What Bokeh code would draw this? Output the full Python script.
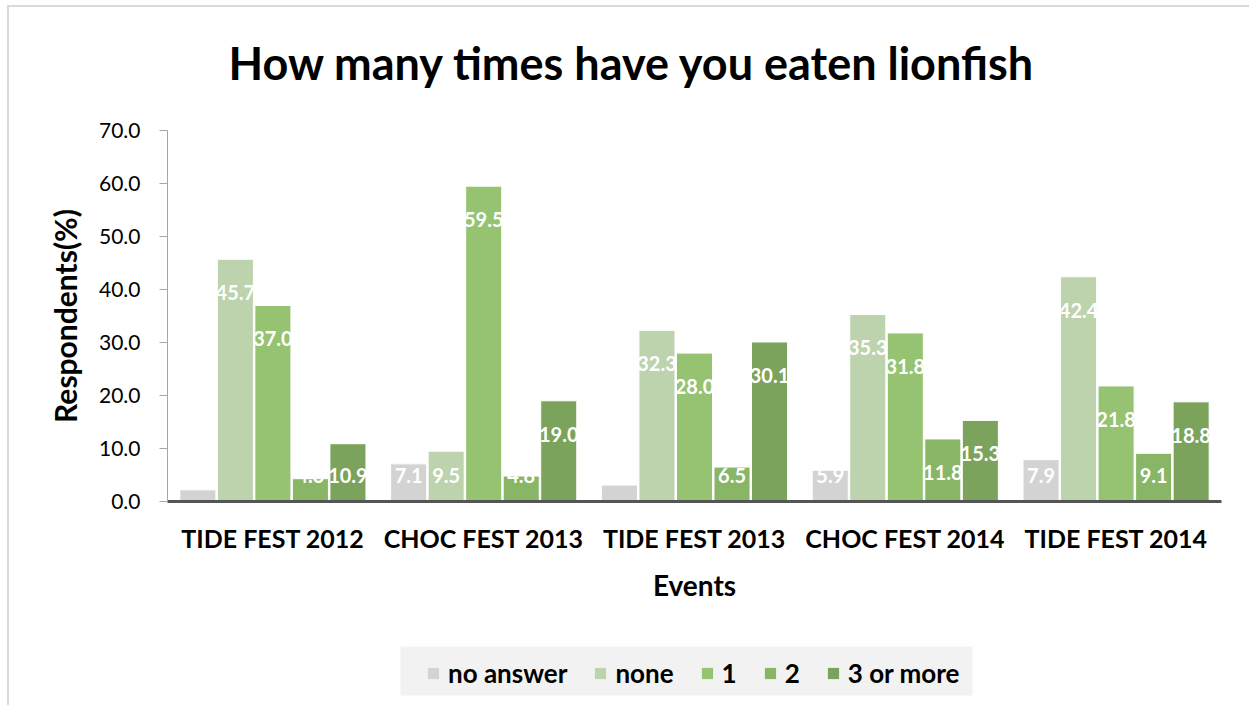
from bokeh.plotting import figure
from bokeh.layouts import column
from bokeh.models import (ColumnDataSource, Range1d, FixedTicker, NumeralTickFormatter,
                          Legend, LegendItem, Title, BoxAnnotation)
from bokeh.core.properties import value
from bokeh.embed import file_html
from bokeh.resources import INLINE

events = ["TIDE FEST 2012", "CHOC FEST 2013", "TIDE FEST 2013", "CHOC FEST 2014", "TIDE FEST 2014"]
series = ["no answer", "none", "1", "2", "3 or more"]
no_answer = [2.2, 7.1, 3.1, 5.9, 7.9]
none_vals = [45.7, 9.5, 32.3, 35.3, 42.4]
once = [37.0, 59.5, 28.0, 31.8, 21.8]
twice = [4.3, 4.8, 6.5, 11.8, 9.1]
three_plus = [10.9, 19.0, 30.1, 15.3, 18.8]
y_ticks = [0, 10, 20, 30, 40, 50, 60, 70]

all_vals = [no_answer, none_vals, once, twice, three_plus]
colors = ["#d3d3d3", "#bcd3ad", "#95c371", "#88b566", "#7ca35c"]

FONT = "Lato"
W = 1240

p = figure(width=W, height=636, output_backend="svg", toolbar_location=None, title=None,
           x_range=Range1d(-0.5, 4.5), y_range=Range1d(0, 70),
           min_border_left=158, min_border_right=28, min_border_top=123, min_border_bottom=142)
p.outline_line_color = None
p.xgrid.grid_line_color = None
p.ygrid.grid_line_color = None
p.background_fill_color = "white"
p.border_fill_color = "white"

# small spacer between frame and title, then the title itself
p.add_layout(Title(text=" ", text_font_size="10px", standoff=6), "above")
p.add_layout(Title(text="How many times have you eaten lionfish", align="left", offset=61,
                   text_font=FONT, text_font_style="bold", text_font_size="45px",
                   text_color="black", standoff=44), "above")

step = 0.178
bw = 0.171
for i, (name, vals, col) in enumerate(zip(series, all_vals, colors)):
    off = (i - 2) * step
    xs = [k + off for k in range(len(events))]
    src = ColumnDataSource(dict(x=xs, top=vals,
                                ly=[max(v - 6.3, 5.0) for v in vals],
                                lbl=["%.1f" % v for v in vals]))
    p.vbar(x="x", top="top", width=bw, source=src, fill_color=col,
           line_color="white", line_width=1)
    p.text(x="x", y="ly", text="lbl", source=src, text_color="white",
           text_font=value(FONT), text_font_style="bold", text_font_size="20px",
           text_align="center", text_baseline="middle")

# axes
p.xaxis.ticker = FixedTicker(ticks=list(range(len(events))))
p.xaxis.major_label_overrides = {k: e for k, e in enumerate(events)}
p.xaxis.major_tick_line_color = None
p.xaxis.minor_tick_line_color = None
p.xaxis.axis_line_color = "#555555"
p.xaxis.axis_line_width = 3
p.xaxis.major_label_text_font = FONT
p.xaxis.major_label_text_font_style = "bold"
p.xaxis.major_label_text_font_size = "25px"
p.xaxis.major_label_text_color = "black"
p.xaxis.major_label_standoff = 15
p.xaxis.axis_label = "Events"
p.xaxis.axis_label_text_font = FONT
p.xaxis.axis_label_text_font_style = "bold"
p.xaxis.axis_label_text_font_size = "28px"
p.xaxis.axis_label_text_color = "black"
p.xaxis.axis_label_standoff = 12

p.yaxis.ticker = FixedTicker(ticks=y_ticks)
p.yaxis.formatter = NumeralTickFormatter(format="0.0")
p.yaxis.minor_tick_line_color = None
p.yaxis.axis_line_color = "#a6a6a6"
p.yaxis.major_tick_line_color = "#a6a6a6"
p.yaxis.major_tick_out = 8
p.yaxis.major_tick_in = 0
p.yaxis.major_label_text_font = FONT
p.yaxis.major_label_text_font_size = "21px"
p.yaxis.major_label_text_color = "black"
p.yaxis.major_label_standoff = 19
p.yaxis.axis_label = "Respondents(%)"
p.yaxis.axis_label_text_font = FONT
p.yaxis.axis_label_text_font_style = "bold"
p.yaxis.axis_label_text_font_size = "30px"
p.yaxis.axis_label_text_color = "black"
p.yaxis.axis_label_standoff = 13

# legend strip (its frame is aligned with the main frame by the column layout)
LH = 62
p2 = figure(width=W, height=LH, output_backend="svg", toolbar_location=None, title=None,
            x_range=Range1d(0, 1054), y_range=Range1d(0, LH),
            x_axis_location=None, y_axis_location=None,
            min_border_left=0, min_border_right=0, min_border_top=0, min_border_bottom=0)
p2.outline_line_color = None
p2.xgrid.grid_line_color = None
p2.ygrid.grid_line_color = None
p2.background_fill_color = "white"
p2.border_fill_color = "white"

p2.add_layout(BoxAnnotation(left=233, right=805, bottom=10, top=59,
                            fill_color="#f2f2f2", fill_alpha=1, line_color=None,
                            level="underlay"))
items = []
for name, col in zip(series, colors):
    # off-range placeholder renderer so the legend can draw its swatch
    r = p2.vbar(x=[-100], top=[0], width=1, fill_color=col, line_color=None)
    items.append(LegendItem(label=name, renderers=[r]))

legend = Legend(items=items, orientation="horizontal", location=(259, 16))
legend.label_text_font = FONT
legend.label_text_font_style = "bold"
legend.label_text_font_size = "26px"
legend.label_text_color = "black"
legend.glyph_width = 14
legend.glyph_height = 14
legend.label_width = 0
legend.label_standoff = 8
legend.spacing = 26
legend.padding = 0
legend.margin = 0
legend.background_fill_alpha = 0
legend.border_line_color = None
p2.add_layout(legend, "center")

layout = column(p, p2, spacing=0)
layout.styles = {"border-left": "2px solid #d9d9d9", "border-top": "2px solid #d9d9d9",
                 "margin-left": "7px", "margin-top": "5px"}

open("out.html", "w").write(file_html(layout, INLINE))
